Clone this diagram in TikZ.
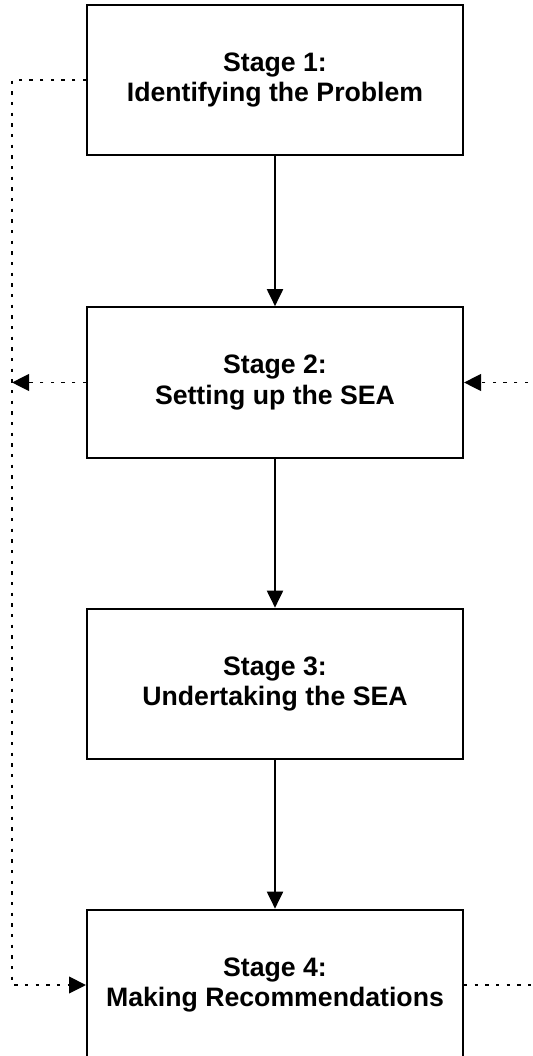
\documentclass[tikz,border=0pt]{standalone}
\usepackage{fontspec}
\setmainfont{Liberation Sans}
\usetikzlibrary{arrows.meta}
\tikzset{
  stagebox/.style={draw, line width=1.5pt, minimum width=282pt, minimum height=113pt,
    align=center, font=\fontsize{20}{23}\selectfont\bfseries, inner sep=0pt,
    execute at begin node={\rule{0pt}{20.5pt}}},
  flow/.style={line width=1.5pt, -{Triangle[length=12.75pt,width=12pt]}},
  loop/.style={line width=1.2pt, dash pattern=on 2.6pt off 5.4pt},
  looparrow/.style={loop, -{Triangle[length=12.75pt,width=12.5pt]}}
}
\begin{document}
\begin{tikzpicture}[x=0.75pt, y=-0.75pt]
  \useasboundingbox (0,0) rectangle (532,1056);
  \clip (0,0) rectangle (532,1056);
  \fill[white] (0,0) rectangle (532,1056);

  % the four stages
  \node[stagebox] (s1) at (275,80)    {Stage 1:\\Identifying the Problem};
  \node[stagebox] (s2) at (275,382.5) {Stage 2:\\Setting up the SEA};
  \node[stagebox] (s3) at (275,684)   {Stage 3:\\Undertaking the SEA};
  \node[stagebox] (s4) at (275,985)   {Stage 4:\\Making Recommendations};

  % main sequence
  \draw[flow] (s1) -- (s2);
  \draw[flow] (s2) -- (s3);
  \draw[flow] (s3) -- (s4);

  % feedback on the left
  \coordinate (lt) at (12,80);
  \coordinate (lb) at (12,985);
  \coordinate (lm) at (12,382.5);
  \draw[looparrow] (s1.west) -- (lt) -- (lb) -- (s4.west);
  \draw[looparrow] (s2.west) -- (lm);

  % feedback on the right
  \coordinate (rb) at (560,985);
  \coordinate (rm) at (560,382.5);
  \draw[loop] (s4.east) -- (rb) -- (rm);
  \draw[looparrow] (rm) -- (s2.east);
\end{tikzpicture}
\end{document}
